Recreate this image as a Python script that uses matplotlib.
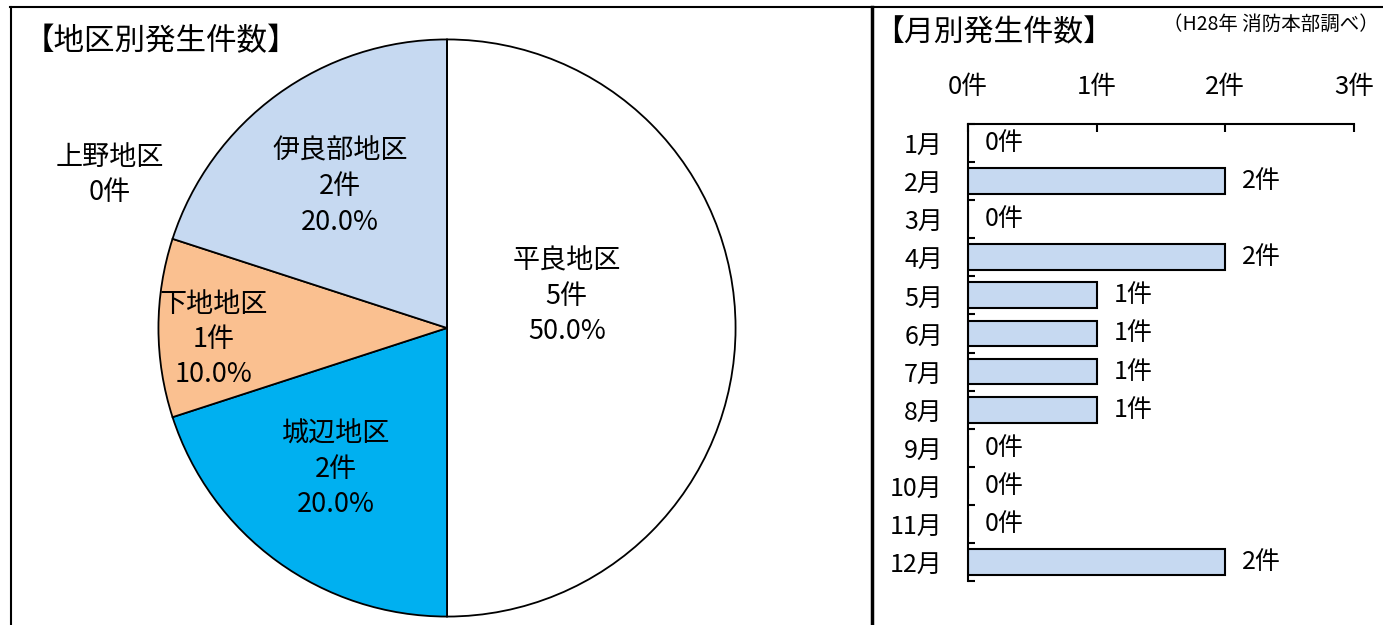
import matplotlib
matplotlib.use("Agg")
import matplotlib.pyplot as plt
from matplotlib.lines import Line2D
import numpy as np

plt.rcParams['font.family'] = ['Noto Sans CJK JP', 'DejaVu Sans']

# ---- data ----
districts = ["平良地区", "城辺地区", "下地地区", "伊良部地区", "上野地区"]
district_counts = [5, 2, 1, 2, 0]
district_colors = ["#FFFFFF", "#00B0F0", "#FAC090", "#C6D9F1", "#C0504D"]

months = ["1月", "2月", "3月", "4月", "5月", "6月", "7月", "8月", "9月", "10月", "11月", "12月"]
month_counts = [0, 2, 0, 2, 1, 1, 1, 1, 0, 0, 0, 2]
x_ticks = [0, 1, 2, 3]

W, H = 1383, 625
fig = plt.figure(figsize=(W / 100, H / 100), dpi=100)

def fx(px):
    return px / W

def fy(py):
    return 1 - py / H

# ---- frame lines ----
fig.add_artist(Line2D([fx(10), fx(W)], [fy(7), fy(7)], color="black", lw=1.5))
fig.add_artist(Line2D([fx(11), fx(11)], [fy(7), fy(H)], color="black", lw=1.5))
fig.add_artist(Line2D([fx(872), fx(872)], [fy(7), fy(H)], color="black", lw=2.5))

# source note (cut off at the top edge in the original; placed just below the line here)
fig.text(fx(1379), fy(24), "（H28年 消防本部調べ）", fontsize=14, ha="right", va="center")

# ---- pie ----
cx, cy, r = 447, 328, 290
ax1 = fig.add_axes([fx(cx - r), fy(cy + r), fx(2 * r), (2 * r) / H])
wedges, _ = ax1.pie(district_counts, colors=district_colors, startangle=90,
                    counterclock=False, radius=1,
                    wedgeprops=dict(edgecolor="black", linewidth=1.3))
ax1.set_xlim(-1.005, 1.005)
ax1.set_ylim(-1.005, 1.005)
ax1.set_aspect("equal")
ax1.axis("off")

total = sum(district_counts)
label_pos = [(0.415, 0.11), (-0.385, -0.49), (-0.81, -0.04), (-0.37, 0.49), (-1.17, 0.53)]
for name, v, (lx, ly) in zip(districts, district_counts, label_pos):
    if v > 0:
        s = f"{name}\n{v}件\n{v / total * 100:.1f}%"
    else:
        s = f"{name}\n{v}件"
    ax1.text(lx, ly, s, ha="center", va="center", fontsize=19.5, linespacing=1.4,
             clip_on=False)

fig.text(fx(24), fy(42), "【地区別発生件数】", fontsize=22, ha="left", va="center")

# ---- bar chart ----
fig.text(fx(874), fy(33), "【月別発生件数】", fontsize=21.5, ha="left", va="center")

ax2 = fig.add_axes([fx(968), fy(581), fx(1354 - 968), (581 - 124) / H])
ypos = np.arange(len(months))
ax2.barh(ypos, month_counts, height=0.68, color="#C6D9F1", edgecolor="black", linewidth=1.5)
ax2.set_xlim(0, 3)
ax2.set_ylim(len(months) - 0.5, -0.5)
ax2.set_yticks(ypos)
ax2.set_yticklabels(months, fontsize=18)
ax2.set_yticks(np.arange(len(months) + 1) - 0.5, minor=True)
ax2.tick_params(axis="y", which="major", length=0, pad=18)
ax2.tick_params(axis="y", which="minor", direction="in", length=5, width=1.5)
ax2.xaxis.tick_top()
ax2.set_xticks(x_ticks)
ax2.set_xticklabels([f"{t}件" for t in x_ticks], fontsize=18.5)
ax2.tick_params(axis="x", direction="in", length=6, width=1.5, pad=17)
for sp in ["right", "bottom"]:
    ax2.spines[sp].set_visible(False)
for sp in ["top", "left"]:
    ax2.spines[sp].set_linewidth(1.5)
ax2.patch.set_alpha(0)

for i, v in enumerate(month_counts):
    ax2.text(v + 0.13, i, f"{v}件", ha="left", va="center", fontsize=18)

fig.savefig("out.png", dpi=100)
